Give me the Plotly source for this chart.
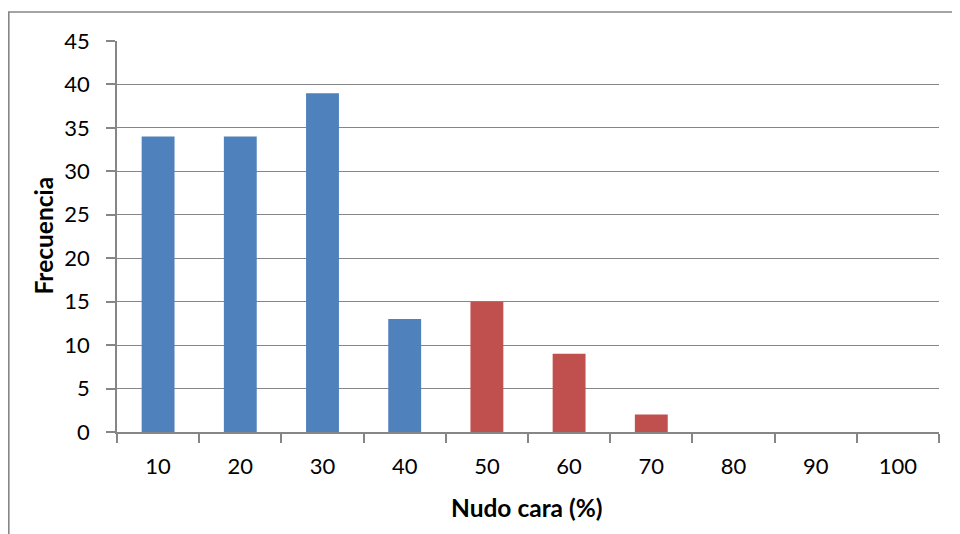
import plotly.graph_objects as go

categories = ["10", "20", "30", "40", "50", "60", "70", "80", "90", "100"]
frecuencia = [34, 34, 39, 13, 15, 9, 2, 0, 0, 0]
bar_colors = ["#4F81BD"] * 4 + ["#C0504D"] * 3 + ["#4F81BD"] * 3
y_ticks = [0, 5, 10, 15, 20, 25, 30, 35, 40, 45]

FONT = "Lato"
GRID = "#868686"

fig = go.Figure()
fig.add_trace(go.Bar(x=categories, y=frecuencia, marker=dict(color=bar_colors, line=dict(width=0)),
                     showlegend=False))

# page body has an 8px margin; layout below is in screen pixels shifted by it
OFF = 8
W, H = 960, 534
PL, PR, PT, PB = 117, 939, 41, 432  # plot area in screen pixels
L, T = PL - OFF, PT - OFF
R = W - (PR - OFF)
B = H - (PB - OFF)
pw = PR - PL
ph = PB - PT

def px_x(x):
    return (x - PL) / pw

def px_y(y):
    return (PB - y) / ph

fig.update_layout(
    width=W, height=H,
    margin=dict(l=L, r=R, t=T, b=B),
    plot_bgcolor="white", paper_bgcolor="white",
    bargap=0.6,
    font=dict(family=FONT, size=22, color="black"),
    xaxis=dict(
        type="category", tickson="boundaries", ticks="outside", ticklen=9, tickcolor=GRID,
        tickwidth=1.5, showline=True, linecolor=GRID, linewidth=1.5, showgrid=False,
        ticklabelstandoff=14, automargin=False,
    ),
    yaxis=dict(
        range=[0, 45], tickvals=y_ticks, ticks="outside", ticklen=9, tickcolor=GRID,
        tickwidth=1.5, showline=True, linecolor=GRID, linewidth=1.5,
        showgrid=True, gridcolor=GRID, gridwidth=1.2, zeroline=False,
        ticklabelstandoff=12, automargin=False,
    ),
    annotations=[
        dict(text="<b>Nudo cara (%)</b>", xref="paper", yref="paper", x=px_x(527), y=px_y(507),
             xanchor="center", yanchor="middle", showarrow=False, font=dict(family=FONT, size=24.5)),
        dict(text="<b>Frecuencia</b>", xref="paper", yref="paper", x=px_x(42.5), y=px_y(236),
             xanchor="center", yanchor="middle", showarrow=False, textangle=-90,
             font=dict(family=FONT, size=24.5)),
    ],
    shapes=[dict(type="rect", xref="paper", yref="paper",
                 x0=px_x(OFF + 0.8), x1=1.2, y0=-0.5, y1=px_y(12),
                 line=dict(color=GRID, width=1.6), fillcolor="rgba(0,0,0,0)", layer="below")],
)

fig.write_html("out.html")
